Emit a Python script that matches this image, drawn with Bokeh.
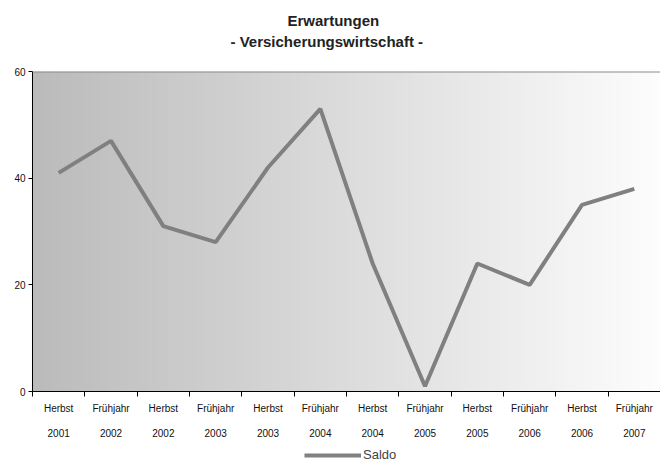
import numpy as np
from bokeh.plotting import figure
from bokeh.layouts import column
from bokeh.models import FixedTicker, Range1d, Legend, LegendItem, Title, Span
from bokeh.embed import file_html
from bokeh.resources import INLINE

seasons = ["Herbst", "Frühjahr", "Herbst", "Frühjahr", "Herbst", "Frühjahr",
           "Herbst", "Frühjahr", "Herbst", "Frühjahr", "Herbst", "Frühjahr"]
years = ["2001", "2002", "2002", "2003", "2003", "2004",
         "2004", "2005", "2005", "2006", "2006", "2007"]
saldo = [41, 47, 31, 28, 42, 53, 24, 1, 24, 20, 35, 38]
y_ticks = [0, 20, 40, 60]
series_name = "Saldo"
title_main = "Erwartungen"
title_sub = "- Versicherungswirtschaft -"

n = len(saldo)
xs = [i + 0.5 for i in range(n)]
FONT = "Liberation Sans"
LINE_COLOR = "#808080"

p = figure(width=660, height=446, output_backend="svg", toolbar_location=None,
           x_range=Range1d(0, n), y_range=Range1d(0, 60), title=None,
           min_border_left=32, min_border_right=0, min_border_top=71,
           min_border_bottom=55)
p.background_fill_color = "white"
p.border_fill_color = "white"
p.outline_line_color = None

# gradient background
steps = 256
img = np.zeros((1, steps), dtype=np.uint32)
view = img.view(dtype=np.uint8).reshape((1, steps, 4))
g = np.linspace(187, 253, steps).astype(np.uint8)
view[0, :, 0] = g
view[0, :, 1] = g
view[0, :, 2] = g
view[0, :, 3] = 255
p.image_rgba(image=[img], x=0, y=0, dw=n, dh=60)

p.add_layout(Span(location=60, dimension="width", line_color="#8c8c8c", line_width=2))

r = p.line(xs, saldo, line_color=LINE_COLOR, line_width=4)

# axes
p.xaxis.ticker = FixedTicker(ticks=xs, minor_ticks=list(range(n + 1)))
p.xaxis.major_label_overrides = {x: f"{s}\n{y}" for x, s, y in zip(xs, seasons, years)}
p.xaxis.major_tick_line_color = None
p.xaxis.minor_tick_line_color = "black"
p.xaxis.minor_tick_in = 0
p.xaxis.minor_tick_out = 5
p.xaxis.axis_line_color = "black"
p.xaxis.major_label_text_font = FONT
p.xaxis.major_label_text_font_size = "10px"
p.xaxis.major_label_text_color = "#111111"
p.xaxis.major_label_text_line_height = 2.3
p.xaxis.major_label_standoff = 5

p.yaxis.ticker = FixedTicker(ticks=y_ticks)
p.yaxis.minor_tick_line_color = None
p.yaxis.major_tick_in = 0
p.yaxis.major_tick_out = 4
p.yaxis.axis_line_color = "black"
p.yaxis.major_tick_line_color = "black"
p.yaxis.major_label_text_font = FONT
p.yaxis.major_label_text_font_size = "10px"
p.yaxis.major_label_text_color = "#111111"
p.yaxis.major_label_standoff = 3

p.xgrid.grid_line_color = None
p.ygrid.ticker = FixedTicker(ticks=[20, 40])
p.ygrid.grid_line_color = "black"
p.ygrid.grid_line_width = 1

# titles (stacked above the frame; first added sits closest to the frame)
p.add_layout(Title(text=" ", text_font_size="18px", standoff=0), "above")
p.add_layout(Title(text=title_sub, align="left", offset=198,
                   text_font=FONT, text_font_size="15px", text_font_style="bold",
                   text_color="#222222", standoff=0), "above")
p.add_layout(Title(text=title_main, align="left", offset=255,
                   text_font=FONT, text_font_size="15px", text_font_style="bold",
                   text_color="#222222", standoff=3), "above")

# legend strip below the chart
p2 = figure(width=660, height=18, output_backend="svg", toolbar_location=None,
            x_range=Range1d(0, 1), y_range=Range1d(0, 1), min_border=0)
p2.axis.visible = False
p2.grid.visible = False
p2.outline_line_color = None
r2 = p2.line(x=[5, 6], y=[5, 5], line_color=LINE_COLOR, line_width=4)
legend = Legend(items=[LegendItem(label=series_name, renderers=[r2])],
                orientation="horizontal", location=(272, 2),
                border_line_color=None, background_fill_alpha=0,
                glyph_width=57, glyph_height=14, label_text_font=FONT,
                label_text_font_size="13px", label_standoff=2,
                padding=0, margin=0)
p2.add_layout(legend)

layout = column(p, p2, spacing=0)
open("out.html", "w").write(file_html(layout, INLINE))
